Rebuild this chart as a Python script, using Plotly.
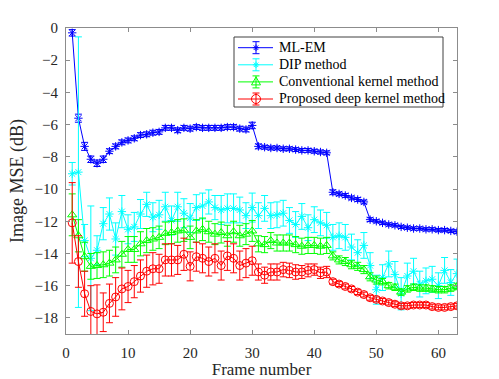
import plotly.graph_objects as go

frames = list(range(1, 64))

mlem = [-0.3, -5.6, -7.35, -8.15, -8.4, -8.15, -7.65, -7.35, -7.1, -6.98,
        -6.85, -6.65, -6.6, -6.5, -6.45, -6.2, -6.2, -6.35, -6.2, -6.25,
        -6.15, -6.2, -6.2, -6.2, -6.2, -6.15, -6.15, -6.25, -6.3, -6.05,
        -7.35, -7.4, -7.45, -7.45, -7.5, -7.5, -7.55, -7.6, -7.6, -7.65,
        -7.7, -7.75, -10.2, -10.3, -10.4, -10.55, -10.65, -10.8, -11.9, -12.0,
        -12.1, -12.2, -12.25, -12.35, -12.4, -12.45, -12.45, -12.5, -12.5, -12.55,
        -12.55, -12.6, -12.65]
mlem_err = [0.2, 0.25, 0.25, 0.2, 0.2, 0.2, 0.15, 0.15, 0.15, 0.15,
            0.15, 0.15, 0.15, 0.15, 0.15, 0.15, 0.15, 0.15, 0.15, 0.15,
            0.15, 0.15, 0.15, 0.15, 0.15, 0.15, 0.15, 0.15, 0.15, 0.2,
            0.15, 0.12, 0.12, 0.12, 0.12, 0.12, 0.12, 0.12, 0.12, 0.12,
            0.12, 0.12, 0.15, 0.12, 0.12, 0.12, 0.12, 0.12, 0.12, 0.1,
            0.1, 0.1, 0.1, 0.1, 0.1, 0.1, 0.1, 0.1, 0.1, 0.1,
            0.1, 0.1, 0.12]

dip = [-9.05, -8.95, -13.2, -14.3, -13.8, -12.15, -11.55, -13.1, -11.4, -12.5,
       -12.35, -11.55, -10.95, -11.75, -11.6, -11.1, -11.95, -11.1, -11.5, -11.8,
       -11.15, -11.05, -10.8, -11.15, -11.3, -11.2, -11.2, -11.3, -11.65, -11.15,
       -11.65, -11.2, -11.65, -11.6, -11.5, -11.95, -12.2, -11.7, -12.4, -11.9,
       -12.1, -12.25, -13.0, -12.9, -13.0, -13.6, -13.95, -13.5, -14.75, -16.25,
       -15.5, -14.65, -15.3, -16.5, -15.4, -15.1, -15.9, -15.7, -15.6, -16.0,
       -15.05, -15.8, -15.25]
dip_err = [0.7, 8.4, 1.0, 3.25, 0.9, 1.0, 1.0, 1.0, 1.0, 0.9,
           0.9, 0.9, 0.75, 0.9, 0.9, 0.9, 0.9, 0.9, 0.9, 0.9,
           0.8, 0.8, 0.75, 0.75, 0.9, 0.9, 0.9, 0.8, 0.8, 0.9,
           0.8, 0.8, 0.8, 0.8, 0.8, 0.8, 0.8, 0.8, 0.8, 0.8,
           0.8, 0.8, 0.8, 0.8, 0.8, 0.8, 0.8, 0.8, 0.8, 0.9,
           0.8, 0.8, 0.8, 1.0, 0.8, 0.8, 0.8, 0.8, 0.8, 0.8,
           0.8, 0.8, 0.9]

conv = [-11.6, -12.9, -14.2, -14.8, -14.75, -14.7, -14.6, -14.4, -14.05, -13.75,
        -13.75, -13.4, -13.2, -13.1, -13.0, -12.75, -12.7, -12.6, -12.55, -13.0,
        -12.6, -12.5, -12.65, -12.8, -12.7, -12.9, -12.65, -12.9, -12.8, -12.6,
        -13.4, -13.45, -13.2, -13.35, -13.35, -13.35, -13.45, -13.55, -13.5, -13.5,
        -13.55, -13.5, -14.15, -14.4, -14.5, -14.7, -14.8, -15.0, -15.45, -15.65,
        -15.75, -16.0, -16.1, -16.4, -16.2, -16.1, -16.15, -16.15, -16.2, -16.25,
        -16.25, -16.15, -16.05]
conv_err = [1.3, 1.0, 0.9, 0.8, 0.8, 0.8, 0.8, 0.8, 0.8, 0.8,
            0.8, 0.75, 0.75, 0.7, 0.7, 0.7, 0.7, 0.7, 0.7, 0.7,
            0.7, 0.7, 0.65, 0.65, 0.65, 0.65, 0.65, 0.65, 0.65, 0.65,
            0.5, 0.5, 0.5, 0.5, 0.5, 0.5, 0.5, 0.5, 0.5, 0.5,
            0.5, 0.5, 0.25, 0.25, 0.25, 0.25, 0.25, 0.25, 0.25, 0.25,
            0.2, 0.2, 0.2, 0.2, 0.2, 0.2, 0.2, 0.2, 0.2, 0.2,
            0.2, 0.2, 0.2]

prop = [-12.1, -14.5, -16.5, -17.6, -17.75, -17.65, -17.1, -16.7, -16.2, -16.05,
        -15.75, -15.4, -15.1, -14.95, -14.95, -14.4, -14.4, -14.4, -14.05, -14.8,
        -14.2, -14.3, -14.5, -14.3, -14.75, -14.15, -14.3, -14.75, -14.6, -14.45,
        -15.15, -15.35, -15.15, -15.15, -15.0, -15.05, -15.15, -15.15, -15.05, -15.0,
        -15.2, -15.15, -15.75, -15.9, -16.05, -16.2, -16.4, -16.55, -16.75, -16.85,
        -16.95, -17.05, -17.15, -17.25, -17.25, -17.2, -17.2, -17.2, -17.3, -17.35,
        -17.35, -17.3, -17.25]
prop_err = [2.5, 1.6, 1.4, 1.6, 1.8, 1.2, 1.2, 1.2, 1.3, 1.0,
            1.0, 1.0, 1.0, 1.0, 0.9, 1.0, 1.0, 0.9, 1.0, 0.9,
            0.9, 0.9, 0.9, 0.9, 0.9, 0.9, 0.9, 0.9, 0.9, 0.9,
            0.5, 0.5, 0.5, 0.5, 0.45, 0.45, 0.45, 0.4, 0.4, 0.35,
            0.35, 0.35, 0.15, 0.15, 0.15, 0.15, 0.15, 0.15, 0.15, 0.15,
            0.15, 0.15, 0.15, 0.15, 0.15, 0.15, 0.15, 0.15, 0.15, 0.15,
            0.15, 0.15, 0.15]

names = ["ML-EM", "DIP method", "Conventional kernel method", "Proposed deep kernel method"]
colors = ["#0000ff", "#00ffff", "#00ff00", "#ff0000"]
symbols = ["asterisk-open", "asterisk-open", "triangle-up-open", "circle-open"]

SERIF = "Liberation Serif, Times New Roman, serif"

W, H = 499, 379
ML, MR, MT, MB = 66, 42, 28, 45
PW, PH = W - ML - MR, H - MT - MB


def px(xp):
    """screen x pixel -> paper x"""
    return (xp - ML) / PW


def py(yp):
    """screen y pixel -> paper y"""
    return (H - MB - yp) / PH


fig = go.Figure()
for name, vals, errs, col, sym in zip(names, [mlem, dip, conv, prop],
                                      [mlem_err, dip_err, conv_err, prop_err],
                                      colors, symbols):
    fig.add_trace(go.Scatter(
        x=frames, y=vals, name=name, mode="lines+markers", showlegend=False,
        line=dict(color=col, width=1),
        marker=dict(symbol=sym, size=8 if sym != "asterisk-open" else 7,
                    color=col, line=dict(color=col, width=1)),
        error_y=dict(type="data", array=errs, visible=True, color=col,
                     thickness=1, width=3.5),
    ))

# ---- custom legend (box, sample lines, glyphs, labels) ----
shapes = []
annotations = []
LX0, LX1, LY0, LY1 = 234, 443, 37, 107
shapes.append(dict(type="rect", xref="paper", yref="paper",
                   x0=px(LX0), x1=px(LX1), y0=py(LY1), y1=py(LY0),
                   line=dict(color="#404040", width=1), fillcolor="white",
                   layer="above"))


def seg(x0, y0, x1, y1, col):
    shapes.append(dict(type="line", xref="paper", yref="paper",
                       x0=px(x0), y0=py(y0), x1=px(x1), y1=py(y1),
                       line=dict(color=col, width=1), layer="above"))


for i, (name, col, sym) in enumerate(zip(names, colors, symbols)):
    yc = 47.7 + 17.1 * i
    xc = 256
    seg(238, yc, 273, yc, col)
    seg(xc, yc - 6, xc, yc + 6, col)
    seg(xc - 3.5, yc - 6, xc + 3.5, yc - 6, col)
    seg(xc - 3.5, yc + 6, xc + 3.5, yc + 6, col)
    if sym == "asterisk-open":
        r = 3.2
        seg(xc - r, yc, xc + r, yc, col)
        seg(xc - r * 0.7, yc - r * 0.7, xc + r * 0.7, yc + r * 0.7, col)
        seg(xc - r * 0.7, yc + r * 0.7, xc + r * 0.7, yc - r * 0.7, col)
        seg(xc, yc - r, xc, yc + r, col)
    elif sym == "triangle-up-open":
        shapes.append(dict(type="path", xref="paper", yref="paper",
                           path=f"M {px(xc)},{py(yc-5)} L {px(xc-4.5)},{py(yc+3)} "
                                f"L {px(xc+4.5)},{py(yc+3)} Z",
                           line=dict(color=col, width=1), fillcolor="rgba(0,0,0,0)",
                           layer="above"))
    else:
        shapes.append(dict(type="circle", xref="paper", yref="paper",
                           x0=px(xc - 4.5), x1=px(xc + 4.5),
                           y0=py(yc + 4.5), y1=py(yc - 4.5),
                           line=dict(color=col, width=1), fillcolor="rgba(0,0,0,0)",
                           layer="above"))
    annotations.append(dict(text=name, xref="paper", yref="paper",
                            x=px(277), y=py(yc), xanchor="left", yanchor="middle",
                            showarrow=False,
                            font=dict(family=SERIF, size=14, color="#000000")))

axis_common = dict(
    showgrid=False, zeroline=False, showline=True, linecolor="#8c8c8c",
    linewidth=1, mirror="ticks", ticks="inside", ticklen=4, tickcolor="#8c8c8c",
    tickfont=dict(family=SERIF, size=15, color="#262626"),
    automargin=False,
)

fig.update_layout(
    width=W, height=H,
    margin=dict(l=ML, r=MR, t=MT, b=MB),
    paper_bgcolor="white", plot_bgcolor="white",
    font=dict(family=SERIF, color="#262626"),
    xaxis=dict(range=[0, 63], tickvals=[0, 10, 20, 30, 40, 50, 60],
               ticklabelstandoff=5,
               title=dict(text="Frame number", font=dict(family=SERIF, size=17), standoff=2),
               **axis_common),
    yaxis=dict(range=[-19, 0], tickvals=[0, -2, -4, -6, -8, -10, -12, -14, -16, -18],
               ticklabelstandoff=4,
               title=dict(text="Image MSE (dB)", font=dict(family=SERIF, size=18), standoff=6),
               **axis_common),
    shapes=shapes,
    annotations=annotations,
    showlegend=False,
)

fig.write_html("out.html", config={"displayModeBar": False},
               post_script="document.body.style.margin='0';document.body.style.overflow='hidden';")
